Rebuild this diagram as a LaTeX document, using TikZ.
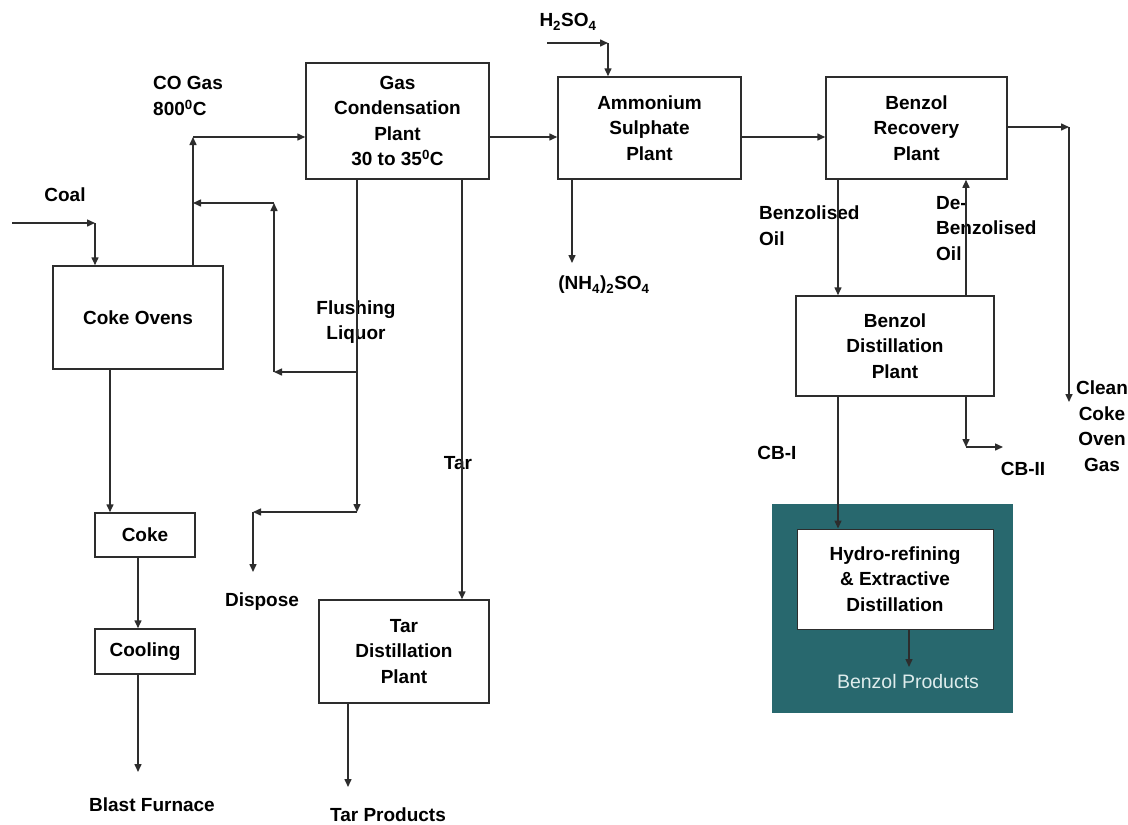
\documentclass[tikz,border=0pt]{standalone}
\usepackage{fontspec}
\setmainfont{Liberation Sans}
\usetikzlibrary{arrows.meta}
\definecolor{lnc}{RGB}{45,45,45}
\definecolor{tealbg}{RGB}{40,104,110}
\definecolor{litetxt}{RGB}{222,236,236}
\newcommand\lblfont{\fontsize{19}{25.5}\selectfont\bfseries}
\begin{document}
\begin{tikzpicture}[x=1pt,y=-1pt,
  box/.style={draw=lnc,line width=1.5pt,fill=white,align=center,inner sep=0pt,font=\lblfont},
  lbl/.style={align=center,inner sep=0pt,font=\lblfont,text=black},
  lbll/.style={align=left,inner sep=0pt,font=\lblfont,text=black,anchor=west},
  arr/.style={draw=lnc,line width=1.5pt,-{Triangle[length=8pt,width=7pt]}},
  plain/.style={draw=lnc,line width=1.5pt}]
\useasboundingbox (0,0) rectangle (1128,825);
\fill[white] (0,0) rectangle (1128,825);

% boxes
\node[box,minimum width=170pt,minimum height=103pt] (ovens) at (138,317.5) {Coke Ovens};
\node[box,minimum width=183pt,minimum height=116pt] (gcp) at (397.5,121) {Gas\\Condensation\\Plant\\30 to 35\textsuperscript{0}C};
\node[box,minimum width=183pt,minimum height=102pt] (asp) at (649.5,128) {Ammonium\\Sulphate\\Plant};
\node[box,minimum width=181pt,minimum height=102pt] (brp) at (916.5,128) {Benzol\\Recovery\\Plant};
\node[box,minimum width=198pt,minimum height=100pt] (bdp) at (895,346) {Benzol\\Distillation\\Plant};
\node[box,minimum width=100pt,minimum height=44pt] (coke) at (145,535) {Coke};
\node[box,minimum width=100pt,minimum height=45pt] (cool) at (145,651.5) {Cooling};
\node[box,minimum width=170pt,minimum height=103pt] (tdp) at (404,651.5) {Tar\\Distillation\\Plant};
\node[fill=tealbg,minimum width=241pt,minimum height=209pt,inner sep=0pt] (teal) at (892.5,608.5) {};
\node[box,line width=1pt,minimum width=196pt,minimum height=100pt] (hyd) at (895,579) {Hydro-refining\\\& Extractive\\Distillation};

% labels
\node[lbl] (coal) at (65,195) {Coal};
\node[lbll] (cogas) at (153,96) {CO Gas\\800\textsuperscript{0}C};
\node[lbl] (flush) at (356,322) {Flushing\\Liquor};
\node[lbl] (tar) at (458,463) {Tar};
\node[lbl] (dispose) at (262,602) {Dispose};
\node[lbl] (blast) at (152,805) {Blast Furnace};
\node[lbl] (tarp) at (388,815) {Tar Products};
\node[lbl] (h2so4) at (568,22) {H\textsubscript{2}SO\textsubscript{4}};
\node[lbl] (nh4) at (604,285) {(NH\textsubscript{4})\textsubscript{2}SO\textsubscript{4}};
\node[lbll] (bzoil) at (759,225.5) {Benzolised\\Oil};
\node[lbll] (debz) at (936,228.5) {De-\\Benzolised\\Oil};
\node[lbl] (cb1) at (777,453) {CB-I};
\node[lbl] (cb2) at (1023,469) {CB-II};
\node[lbl] (clean) at (1102,426) {Clean\\Coke\\Oven\\Gas};
\node[align=center,inner sep=0pt,font=\fontsize{19.5}{24}\selectfont,text=litetxt] (bprod) at (908,682) {Benzol Products};

% coordinates
\coordinate (coalS) at (12,223);
\coordinate (coalB) at (95,223);
\coordinate (coB) at (193,137);
\coordinate (jn) at (193,203);
\coordinate (fl1) at (357,372);
\coordinate (fl2) at (274,372);
\coordinate (fl3) at (274,203);
\coordinate (ds1) at (357,512);
\coordinate (ds2) at (253,512);
\coordinate (ds3) at (253,572);
\coordinate (tarx) at (462,300);
\coordinate (tpx) at (348,787);
\coordinate (ovx) at (110,400);
\coordinate (ckx) at (138,600);
\coordinate (bfx) at (138,772);
\coordinate (hA) at (547,43);
\coordinate (hB) at (608,43);
\coordinate (nhx) at (572,263);
\coordinate (clA) at (1069,127);
\coordinate (clB) at (1069,402);
\coordinate (bzx) at (838,250);
\coordinate (dbx) at (966,250);
\coordinate (cbA) at (966,447);
\coordinate (cbB) at (1003,447);
\coordinate (bpx) at (909,667);

% connectors
\draw[arr] (coalS) -- (coalB);
\draw[arr] (coalB) -- (coalB |- ovens.north);
\draw[arr] (coB |- ovens.north) -- (coB);
\draw[arr] (coB) -- (coB -| gcp.west);
\draw[arr] (fl1 |- gcp.south) -- (ds1);
\draw[arr] (fl1) -- (fl2);
\draw[arr] (fl2) -- (fl3);
\draw[arr] (fl3) -- (jn);
\draw[arr] (ds1) -- (ds2);
\draw[arr] (ds2) -- (ds3);
\draw[arr] (tarx |- gcp.south) -- (tarx |- tdp.north);
\draw[arr] (tpx |- tdp.south) -- (tpx);
\draw[arr] (ovx |- ovens.south) -- (ovx |- coke.north);
\draw[arr] (ckx |- coke.south) -- (ckx |- cool.north);
\draw[arr] (bfx |- cool.south) -- (bfx);
\draw[arr] (gcp.east |- coB) -- (asp.west |- coB);
\draw[arr] (asp.east |- coB) -- (brp.west |- coB);
\draw[arr] (hA) -- (hB);
\draw[arr] (hB) -- (hB |- asp.north);
\draw[arr] (nhx |- asp.south) -- (nhx);
\draw[arr] (brp.east |- clA) -- (clA);
\draw[arr] (clA) -- (clB);
\draw[arr] (bzx |- brp.south) -- (bzx |- bdp.north);
\draw[arr] (dbx |- bdp.north) -- (dbx |- brp.south);
\draw[arr] (bzx |- bdp.south) -- (bzx |- hyd.north);
\draw[arr] (dbx |- bdp.south) -- (cbA);
\draw[arr] (cbA) -- (cbB);
\draw[arr] (bpx |- hyd.south) -- (bpx);
\end{tikzpicture}
\end{document}
